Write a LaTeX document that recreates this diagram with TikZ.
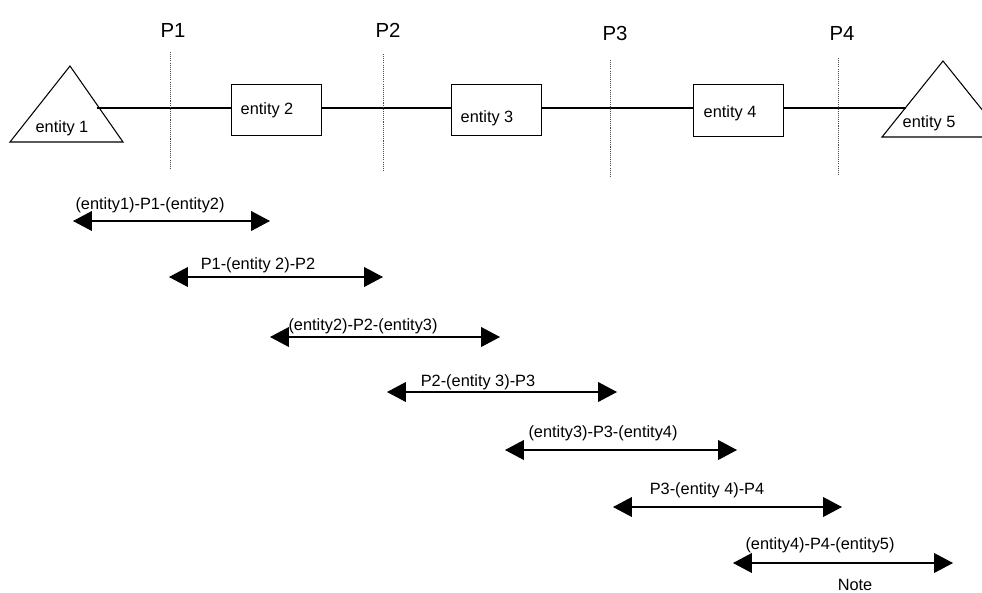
\documentclass[tikz,border=0pt]{standalone}
\usepackage{fontspec}
\setmainfont{Liberation Sans}
\usetikzlibrary{arrows.meta,positioning,calc}
\tikzset{
	ebox/.style={draw, minimum width=51.6pt, minimum height=29.5pt, inner sep=0, outer sep=0},
	elab/.style={inner sep=0, outer sep=0, font=\fontsize{9.3}{11}\selectfont},
	plab/.style={inner sep=0, outer sep=0, font=\fontsize{11.6}{13}\selectfont},
	pline/.style={draw=black!70, dash pattern=on 0.6pt off 0.6pt, line width=0.5pt},
	span/.style={{Triangle[length=10.8pt,width=11.3pt]}-{Triangle[length=10.8pt,width=11.3pt]}, line width=0.6pt},
}

\begin{document}
\begin{tikzpicture}[x=0.02cm, y=-0.02cm, line width=0.6pt]
				\useasboundingbox (0,0) rectangle (982,592);
				% entities
				\draw (10,142) -- (70,66) -- (123,142) -- cycle;
				\node[elab] (e1t) at (62,128) {entity 1};
				\node[ebox] (e2) at (276.5,110) {};
				\node[elab] (e2t) at (267,110) {entity 2};
				\node[ebox] (e3) at (496.5,110) {};
				\node[elab] (e3t) at (487,118) {entity 3};
				\node[ebox] (e4) at (738.5,110.5) {};
				\node[elab] (e4t) at (730,113) {entity 4};
				\draw (882,137) -- (943,61) -- (1004,137) -- cycle;
				\node[elab] (e5t) at (929,123) {entity 5};
				\coordinate (t1r) at (97,108);
				\coordinate (t5l) at (906,108);
				\draw (t1r) -- (t1r -| e2.west);
				\draw (e2.east |- t1r) -- (t1r -| e3.west);
				\draw (e3.east |- t1r) -- (t1r -| e4.west);
				\draw (e4.east |- t1r) -- (t5l);
				% reference points
				\node[plab] (p1) at (173,30) {P1};
				\node[plab] (p2) at (388,30) {P2};
				\node[plab] (p3) at (615,33) {P3};
				\node[plab] (p4) at (842,33) {P4};
				\draw[pline] (170,52) -- (170,168);
				\draw[pline] (383,54) -- (383,171);
				\draw[pline] (610,60) -- (610,177);
				\draw[pline] (838,58) -- (838,174);
				% spans
				\coordinate (a1l) at (73,221);  \coordinate (a1r) at (270,221);
				\coordinate (a2l) at (169,277); \coordinate (a2r) at (383,277);
				\coordinate (a3l) at (270,337); \coordinate (a3r) at (500,337);
				\coordinate (a4l) at (387,392); \coordinate (a4r) at (617,392);
				\coordinate (a5l) at (505,450); \coordinate (a5r) at (737,450);
				\coordinate (a6l) at (613,507); \coordinate (a6r) at (842,507);
				\coordinate (a7l) at (733,563); \coordinate (a7r) at (953,563);
				\draw[span] (a1l) -- (a1r);
				\draw[span] (a2l) -- (a2r);
				\draw[span] (a3l) -- (a3r);
				\draw[span] (a4l) -- (a4r);
				\draw[span] (a5l) -- (a5r);
				\draw[span] (a6l) -- (a6r);
				\draw[span] (a7l) -- (a7r);
				\node[elab] (l1) at (150,205) {(entity1)-P1-(entity2)};
				\node[elab] (l2) at (258,265) {P1-(entity 2)-P2};
				\node[elab] (l3) at (363,326) {(entity2)-P2-(entity3)};
				\node[elab] (l4) at (478,382) {P2-(entity 3)-P3};
				\node[elab] (l5) at (603,433) {(entity3)-P3-(entity4)};
				\node[elab] (l6) at (707,490) {P3-(entity 4)-P4};
				\node[elab] (l7) at (820,545) {(entity4)-P4-(entity5)};
				\node[elab] (note) at (855,585) {Note};
\end{tikzpicture}
\end{document}
